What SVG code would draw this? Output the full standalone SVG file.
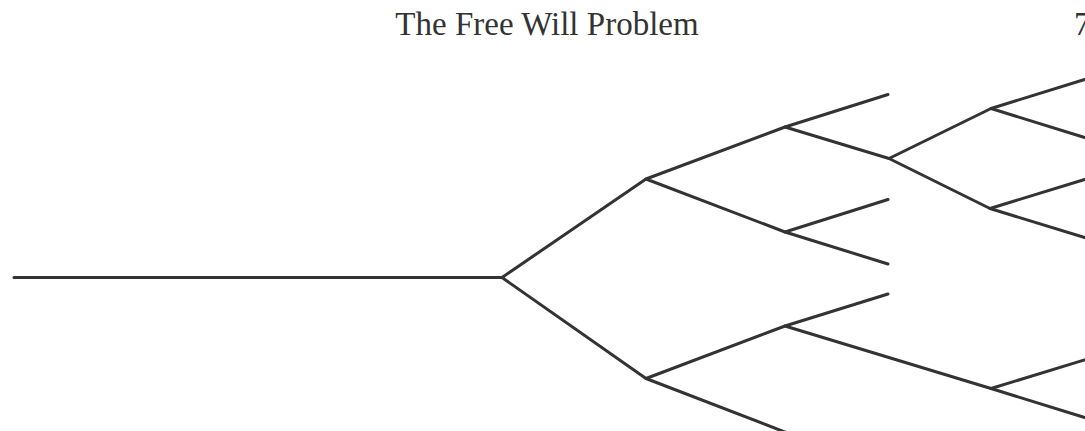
<svg xmlns="http://www.w3.org/2000/svg" width="1085" height="431" viewBox="0 0 1085 431">
<style>
.t{font-family:"Liberation Serif","Times New Roman",serif;font-size:33px;fill:#333}
.e{stroke:#333;stroke-width:3;fill:none;stroke-linecap:round;stroke-linejoin:round}
</style>
<rect width="1085" height="431" fill="#fff"/>
<g id="title"><text class="t" x="547" y="35" text-anchor="middle">The Free Will Problem</text></g>
<g id="page"><text class="t" x="1074" y="35">7</text></g>
<g id="connectors" class="e">
<path d="M14 277.5H502"/>
<path d="M502 277.5L646 179M502 277.5L646 378.5"/>
<path d="M646 179L785 127M646 179L785 232"/>
<path d="M785 127L888 94.5M785 127L889 158.5"/>
<path d="M785 232L888 199.5M785 232L888 264"/>
<path d="M889 158.5L991 108.5M889 158.5L990 208.5"/>
<path d="M991 108.5L1086 79M991 108.5L1086 138"/>
<path d="M990 208.5L1086 179M990 208.5L1086 238"/>
<path d="M646 378.5L785 326M646 378.5L790 434"/>
<path d="M785 326L888 294M785 326L991 388.5"/>
<path d="M991 388.5L1086 359.5M991 388.5L1086 418"/>
</g>
</svg>
